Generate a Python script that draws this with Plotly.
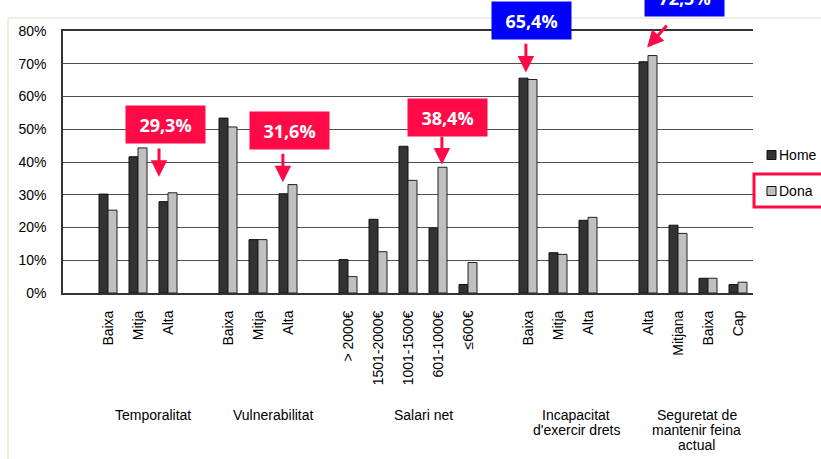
import plotly.graph_objects as go

# ---------------- data ----------------
groups = ["Temporalitat", "Vulnerabilitat", "Salari net",
          "Incapacitat<br>d'exercir drets", "Seguretat de<br>mantenir feina<br>actual"]
cats_temporalitat = ["Baixa", "Mitja", "Alta"]
cats_vulnerabilitat = ["Baixa", "Mitja", "Alta"]
cats_salari = ["> 2000€", "1501-2000€", "1001-1500€", "601-1000€", "≤600€"]
cats_incapacitat = ["Baixa", "Mitja", "Alta"]
cats_seguretat = ["Alta", "Mitjana", "Baixa", "Cap"]

home_temporalitat = [30.2, 41.6, 27.9]
dona_temporalitat = [25.3, 44.3, 30.6]
home_vulnerabilitat = [53.4, 16.3, 30.3]
dona_vulnerabilitat = [50.7, 16.3, 33.1]
home_salari = [10.2, 22.5, 44.8, 19.8, 2.6]
dona_salari = [5.0, 12.6, 34.4, 38.4, 9.3]
home_incapacitat = [65.6, 12.3, 22.2]
dona_incapacitat = [65.2, 11.8, 23.1]
home_seguretat = [70.6, 20.7, 4.5, 2.6]
dona_seguretat = [72.5, 18.2, 4.5, 3.3]

callouts = ["29,3%", "31,6%", "38,4%", "65,4%", "72,5%"]

# ---------------- build positions ----------------
group_cats = [cats_temporalitat, cats_vulnerabilitat, cats_salari, cats_incapacitat, cats_seguretat]
group_home = [home_temporalitat, home_vulnerabilitat, home_salari, home_incapacitat, home_seguretat]
group_dona = [dona_temporalitat, dona_vulnerabilitat, dona_salari, dona_incapacitat, dona_seguretat]

xs, labels, home, dona, centers = [], [], [], [], []
pos = 1
for cats, h, d in zip(group_cats, group_home, group_dona):
    start = pos
    for c, hv, dv in zip(cats, h, d):
        xs.append(pos); labels.append(c); home.append(hv); dona.append(dv)
        pos += 1
    centers.append((start + pos - 1) / 2)
    pos += 1  # gap slot
xmax = pos - 1.5

FONT = "Liberation Sans, Arial, sans-serif"
RED = "#ff0a47"
BLUE = "#0000ff"

fig = go.Figure()
fig.add_trace(go.Bar(x=xs, y=home, name="Home", marker=dict(color="#333333", line=dict(color="#111111", width=1)), showlegend=False))
fig.add_trace(go.Bar(x=xs, y=dona, name="Dona", marker=dict(color="#c0c0c0", line=dict(color="#222222", width=1)), showlegend=False))

# plot area in px: x 63..753, y 31..293
L, R, T, B = 63, 753, 31, 293
W, H = 821, 459
def px(xp): return (xp - L) / (R - L)
def py(yp): return (B - yp) / (B - T)

fig.update_layout(
    width=W, height=H,
    margin=dict(l=L, r=W - R, t=T, b=H - B),
    paper_bgcolor="white", plot_bgcolor="white",
    barmode="group", bargap=0.4, bargroupgap=0,
    font=dict(family=FONT, size=14, color="black"),
    xaxis=dict(range=[-0.5, xmax], tickmode="array", tickvals=xs, ticktext=labels,
               tickangle=-90, ticks="", showgrid=False, zeroline=False,
               showline=True, linecolor="#333333", linewidth=2, mirror=True,
               ticklabelstandoff=10, tickfont=dict(size=14)),
    yaxis=dict(range=[0, 80], dtick=10, ticksuffix="%", showgrid=True,
               gridcolor="#4d4d4d", gridwidth=1, zeroline=False,
               showline=True, linecolor="#333333", linewidth=1.5,
               ticks="", ticklabelstandoff=12, tickfont=dict(size=14)),
)

ann = []
shapes = []

# outer frame
shapes.append(dict(type="rect", xref="paper", yref="paper", x0=px(8), x1=px(835), y0=py(18), y1=py(470),
                   line=dict(color="#ebe8da", width=1.5), fillcolor="rgba(0,0,0,0)", layer="below"))

# cut-off title (only its lowest part falls inside the page, as in the reference)
ann.append(dict(text="Comparació de la precarietat per gènere segons grup (%)", xref="paper", yref="paper",
                x=px(360), y=py(0), xanchor="center", yanchor="bottom", showarrow=False,
                font=dict(family=FONT, size=18, color="black")))

# group labels (line by line)
label_offsets = [0.5, 0.5, 0.5, 0.6, 0.13]
for g, c, off in zip(groups, centers, label_offsets):
    for i, line in enumerate(g.split("<br>")):
        ann.append(dict(text=line, x=c + off, xref="x", yref="paper", y=py(415 + 15 * i),
                        xanchor="center", yanchor="middle", showarrow=False,
                        font=dict(family=FONT, size=14, color="black")))

# callout boxes: (text, box centre x in data units, box centre y in px, colour, arrow tail, arrow head)
box_specs = [
    (callouts[0], 2.92, 124.5, RED, (2.7, 44.6), (2.7, 35.5)),
    (callouts[1], 7.05, 130.5, RED, (6.83, 43.0), (6.83, 33.8)),
    (callouts[2], 12.33, 117.0, RED, (12.13, 48.2), (12.13, 39.2)),
    (callouts[3], 15.13, 20.5, BLUE, (14.93, 76.6), (14.93, 67.3)),
    (callouts[4], 20.22, -2.5, BLUE, (19.67, 82.1), (18.97, 75.0)),
]
for text, bx, byp, col, tail, head in box_specs:
    ann.append(dict(text=f"<b>{text}</b>", x=bx, y=py(byp), xref="x", yref="paper", showarrow=False,
                    xanchor="center", yanchor="middle",
                    bgcolor=col, width=77, height=35, borderpad=1, align="center", valign="middle",
                    font=dict(family="Open Sans, sans-serif", size=18, color="white")))
    ann.append(dict(text="", x=head[0], y=head[1], ax=tail[0], ay=tail[1], xref="x", yref="y",
                    axref="x", ayref="y", showarrow=True, arrowhead=2, arrowsize=1.1,
                    arrowwidth=3, arrowcolor=RED))

# manual legend
legend_items = [("Home", "#333333", 155), ("Dona", "#c0c0c0", 191)]
for name, col, yc in legend_items:
    shapes.append(dict(type="rect", xref="paper", yref="paper", x0=px(767), x1=px(776),
                       y0=py(yc - 4.5), y1=py(yc + 4.5), fillcolor=col, line=dict(color="#111111", width=1)))
    ann.append(dict(text=name, xref="paper", yref="paper", x=px(777), y=py(yc), xanchor="left",
                    yanchor="middle", showarrow=False, font=dict(family=FONT, size=14, color="black")))
# red highlight around Dona
shapes.append(dict(type="rect", xref="paper", yref="paper", x0=px(754), x1=px(823), y0=py(174), y1=py(207),
                   line=dict(color=RED, width=3), fillcolor="rgba(0,0,0,0)"))

fig.update_layout(annotations=ann, shapes=shapes)
fig.write_html("out.html")
